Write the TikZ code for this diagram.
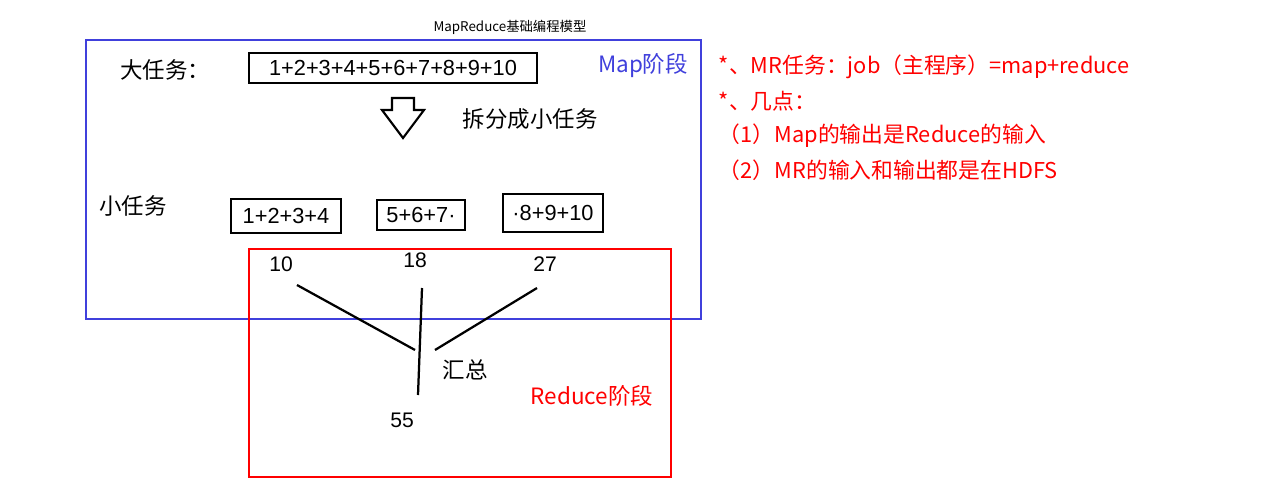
\documentclass[tikz,border=0pt]{standalone}
\usepackage{fontspec}
\setmainfont{Liberation Sans}
\newfontfamily\cjk{Noto Sans CJK SC}
\definecolor{mapblue}{RGB}{64,64,220}
\tikzset{
  numbox/.style={rectangle,draw=black,line width=2pt,inner sep=2pt,font=\fontsize{15.5}{17}\selectfont},
  label/.style={font=\cjk\fontsize{16}{19}\selectfont},
  note/.style={anchor=west,text=red,font=\cjk\fontsize{15.5}{18}\selectfont},
  joinline/.style={line width=1.6pt}
}
\begin{document}
\begin{tikzpicture}[x=0.025cm,y=-0.025cm]
\useasboundingbox (0,0) rectangle (1261,486);

\node[font=\cjk\fontsize{9.5}{11}\selectfont] (title) at (510,27) {MapReduce基础编程模型};
\draw[mapblue,line width=2pt] (86,40) rectangle (701,319);
\draw[red,line width=2pt] (249,249) rectangle (671,477);

\node[label] (big) at (165,70) {大任务：};
\node[numbox,minimum width=7.2cm,minimum height=0.75cm] (all) at (393,68) {1+2+3+4+5+6+7+8+9+10};
\node[label,text=mapblue] (map) at (643,66) {Map阶段};

% hollow arrow
\draw[line width=1.5pt] (392,98) -- (414,98) -- (414,110) -- (424,110) -- (403,138) -- (382,110) -- (392,110) -- cycle;
\node[label] (split) at (530,119) {拆分成小任务};

\node[label] (small) at (133,206) {小任务};
\node[numbox,minimum width=2.75cm,minimum height=0.85cm] (t1) at (286,216) {1+2+3+4};
\node[numbox,minimum width=2.2cm,minimum height=0.75cm] (t2) at (421,215) {5+6+7·};
\node[numbox,minimum width=2.5cm,minimum height=0.95cm] (t3) at (553,213) {·8+9+10};

\node[font=\fontsize{15}{17}\selectfont] (r1) at (281,264) {10};
\node[font=\fontsize{15}{17}\selectfont] (r2) at (415,260) {18};
\node[font=\fontsize{15}{17}\selectfont] (r3) at (545,264) {27};
\node[font=\fontsize{15}{17}\selectfont] (sum) at (402,420) {55};

\coordinate (a1) at (297,285);
\coordinate (a2) at (415,350);
\coordinate (b1) at (422,288);
\coordinate (b2) at (418,395);
\coordinate (c1) at (537,288);
\coordinate (c2) at (435,350);
\draw[joinline] (a1) -- (a2);
\draw[joinline] (b1) -- (b2);
\draw[joinline] (c1) -- (c2);

\node[label] (merge) at (465,370) {汇总};
\node[label,text=red] (reduce) at (592,396) {Reduce阶段};

\node[note] (n1) at (714,67) {*、MR任务：job（主程序）=map+reduce};
\node[note] (n2) at (714,101) {*、几点：};
\node[note] (n3) at (714,136) {（1）Map的输出是Reduce的输入};
\node[note] (n4) at (714,170) {（2）MR的输入和输出都是在HDFS};
\end{tikzpicture}
\end{document}
